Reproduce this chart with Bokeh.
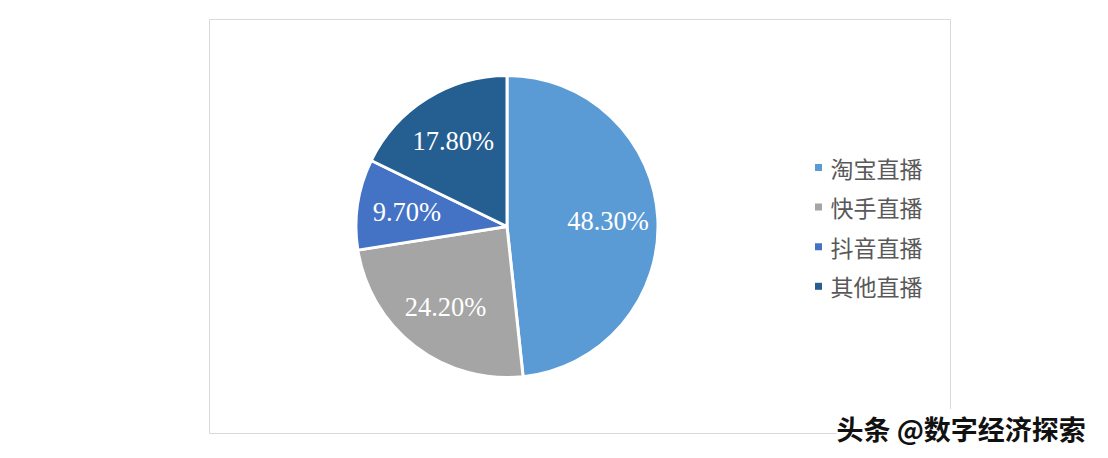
import math
from bokeh.plotting import figure
from bokeh.models import Range1d, ColumnDataSource, Label
from bokeh.core.properties import value
from bokeh.embed import file_html
from bokeh.resources import INLINE

categories = ["淘宝直播", "快手直播", "抖音直播", "其他直播"]
shares = [48.3, 24.2, 9.7, 17.8]
colors = ["#5B9BD5", "#A5A5A5", "#4472C4", "#255E91"]

W, H = 1100, 450
p = figure(width=W, height=H, output_backend="svg", toolbar_location=None,
           x_range=Range1d(0, W), y_range=Range1d(0, H),
           x_axis_type=None, y_axis_type=None, min_border=0,
           outline_line_color=None, background_fill_color="white",
           border_fill_color="white")
p.xgrid.visible = False
p.ygrid.visible = False

def Y(py):
    return H - py

# chart frame
p.quad(left=[209], right=[950], top=[Y(19)], bottom=[Y(433)],
       fill_color=None, line_color="#D9D9D9", line_width=1)

cx, cy, r = 506.5, Y(226), 151
total = sum(shares)
starts, ends, mids = [], [], []
acc = 0.0
for v in shares:
    a0 = math.pi / 2 - acc / total * 2 * math.pi
    acc += v
    a1 = math.pi / 2 - acc / total * 2 * math.pi
    starts.append(a0)
    ends.append(a1)
    mids.append((a0 + a1) / 2)

src = ColumnDataSource(dict(start=starts, end=ends, color=colors))
p.wedge(x=cx, y=cy, radius=r, start_angle="start", end_angle="end",
        direction="clock", fill_color="color", line_color="white",
        line_width=3, source=src)

lr = 0.67 * r
lx = [cx + lr * math.cos(m) for m in mids]
ly = [cy + lr * math.sin(m) for m in mids]
ltxt = [f"{v:.2f}%" for v in shares]
p.text(x=lx, y=ly, text=ltxt, text_color="white",
       text_font=value("Liberation Serif"), text_font_size="26.5px",
       text_align="center", text_baseline="middle")

# legend
leg_y0, leg_dy = 167, 39.6
leg_x = [818] * len(categories)
leg_y = [Y(leg_y0 + i * leg_dy) for i in range(len(categories))]
p.scatter(x=leg_x, y=leg_y, marker="square", size=7, fill_color=colors,
          line_color=None)
p.text(x=[830] * len(categories), y=leg_y, text=categories,
       text_color="#595959", text_font=value("Noto Sans CJK SC"),
       text_font_size="23px", text_align="left", text_baseline="middle")

# watermark
wm = Label(x=836, y=Y(428), text="头条 @数字经济探索", text_color="#111111",
           text_font="Noto Sans CJK SC", text_font_size="27px",
           text_font_style="bold", text_baseline="middle", text_align="left",
           background_fill_color="white", background_fill_alpha=1.0)
p.add_layout(wm)

open("out.html", "w").write(file_html(p, INLINE))
